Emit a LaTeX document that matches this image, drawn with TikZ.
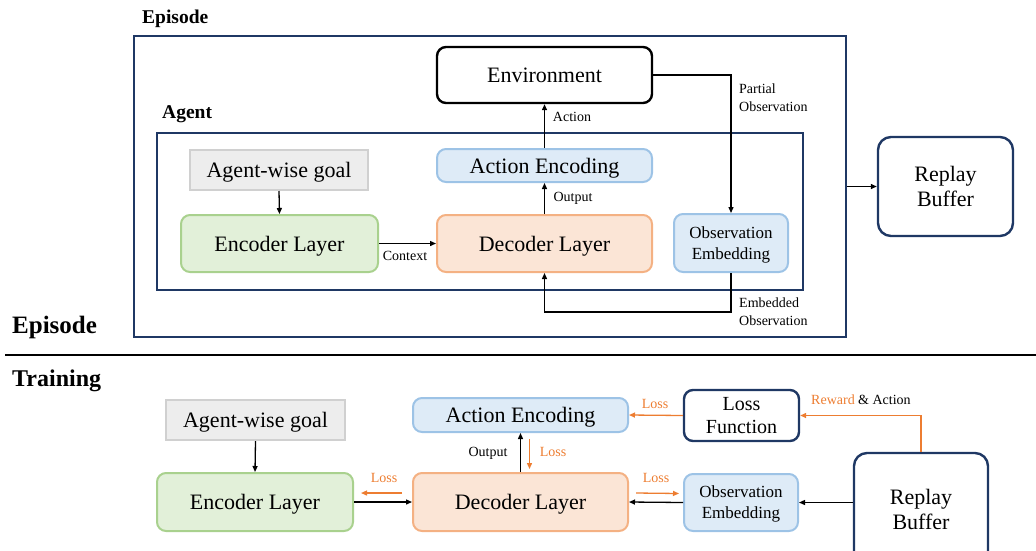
\documentclass[tikz,border=0pt]{standalone}
\usepackage{fontspec}
\setmainfont{Liberation Serif}
\usetikzlibrary{arrows.meta}
\definecolor{navy}{HTML}{1F3864}
\definecolor{bfill}{HTML}{DEEBF7}
\definecolor{bdraw}{HTML}{9DC3E6}
\definecolor{gfill}{HTML}{E2F0D9}
\definecolor{gdraw}{HTML}{A9D18E}
\definecolor{ofill}{HTML}{FBE5D6}
\definecolor{odraw}{HTML}{F4B183}
\definecolor{grfill}{HTML}{EDEDED}
\definecolor{grdraw}{HTML}{D0D0D0}
\definecolor{orarrow}{HTML}{ED7D31}
\tikzset{
  box/.style={rounded corners=9pt, line width=2pt, inner sep=0pt, align=center,
    text depth=0pt, font=\fontsize{22}{25}\selectfont},
  bluebox/.style={box, fill=bfill, draw=bdraw},
  greenbox/.style={box, fill=gfill, draw=gdraw},
  orangebox/.style={box, fill=ofill, draw=odraw},
  graybox/.style={box, rounded corners=0pt, fill=grfill, draw=grdraw},
  navybox/.style={box, fill=white, draw=navy, line width=2.4pt, rounded corners=13pt},
  envbox/.style={box, fill=white, draw=black, line width=2.4pt},
  arr/.style={-{Triangle[length=6pt,width=5pt]}, line width=1.3pt, black},
  oarr/.style={-{Triangle[length=6pt,width=5pt]}, line width=1.3pt, orarrow},
  lbl/.style={font=\fontsize{14}{18}\selectfont, inner sep=0pt, align=left},
  olbl/.style={lbl, text=orarrow},
  ttl/.style={font=\bfseries, inner sep=0pt, anchor=west}
}
\begin{document}
\begin{tikzpicture}[x=1pt,y=-1pt]
\useasboundingbox (0,0) rectangle (1036,550);
% ---------- Episode section ----------
\node[ttl, font=\bfseries\fontsize{19.5}{22}\selectfont] (tepi) at (142,19) {Episode};
\node[draw=navy, line width=1.5pt, minimum width=712pt, minimum height=301pt, inner sep=0pt] (epi) at (490,186.5) {};
\node[ttl, font=\bfseries\fontsize{19.5}{22}\selectfont] (tagent) at (162,114) {Agent};
\node[draw=navy, line width=2.6pt, minimum width=646pt, minimum height=157pt, inner sep=0pt] (agent) at (480,211.5) {};

\node[envbox, minimum width=215pt, minimum height=56pt] (env) at (544.5,75) {Environment};
\node[bluebox, minimum width=215pt, minimum height=33pt] (aenc1) at (544.5,165.5) {Action Encoding};
\node[graybox, minimum width=178pt, minimum height=40pt] (goal1) at (279,170) {Agent-wise goal};
\node[greenbox, minimum width=197pt, minimum height=57pt] (enc1) at (279.5,243.5) {Encoder Layer};
\node[orangebox, minimum width=215pt, minimum height=57pt] (dec1) at (544.5,243.5) {Decoder Layer};
\node[bluebox, minimum width=114pt, minimum height=58pt, font=\fontsize{17}{21}\selectfont] (obs1) at (731,243) {Observation\\Embedding};
\node[navybox, minimum width=135pt, minimum height=99pt] (rb1) at (945.5,186.5) {Replay\\Buffer};

\draw[arr] (goal1.south) -- (enc1.north);
\draw[arr] (enc1.east) -- (dec1.west);
\node[lbl] (lctx) at (405,256) {Context};
\draw[arr] (dec1.north) -- (aenc1.south);
\node[lbl] (lout1) at (573,198) {Output};
\draw[arr] (aenc1.north) -- (env.south);
\node[lbl] (lact) at (572,117) {Action};
\draw[arr] (env.east) -| (obs1.north);
\node[lbl, anchor=west] (lpo) at (739,98) {Partial\\Observation};
\draw[arr] (obs1.south) -- ++(0,39) -| (dec1.south);
\node[lbl, anchor=west] (leo) at (739,312) {Embedded\\Observation};
\draw[arr] (epi.east) -- (rb1.west);

% ---------- divider ----------
\node[ttl, font=\bfseries\fontsize{25}{28}\selectfont] (tepi2) at (12,327) {Episode};
\coordinate (dl) at (5,355);
\coordinate (dr) at (1036,355);
\draw[line width=2.6pt] (dl) -- (dr);
\node[ttl, font=\bfseries\fontsize{24}{28}\selectfont] (ttrain) at (12,381) {Training};

% ---------- Training section ----------
\node[graybox, minimum width=179pt, minimum height=40pt] (goal2) at (255.5,420) {Agent-wise goal};
\node[greenbox, minimum width=196pt, minimum height=58pt] (enc2) at (255,502) {Encoder Layer};
\node[bluebox, minimum width=215pt, minimum height=34pt] (aenc2) at (520.5,415) {Action Encoding};
\node[orangebox, minimum width=215pt, minimum height=58pt] (dec2) at (520.5,502) {Decoder Layer};
\node[navybox, minimum width=115pt, minimum height=51pt, rounded corners=9pt, font=\fontsize{20}{23}\selectfont] (lf) at (741.5,415.5) {Loss\\Function};
\node[bluebox, minimum width=114pt, minimum height=57pt, font=\fontsize{17}{21}\selectfont] (obs2) at (741,502.5) {Observation\\Embedding};
\node[navybox, minimum width=134pt, minimum height=112pt] (rb2) at (921,509) {Replay\\Buffer};

\draw[arr] (goal2.south) -- (enc2.north);
\draw[arr] (enc2.east) -- (dec2.west);
\draw[oarr] ([xshift=-10pt,yshift=9pt]dec2.west) -- ([xshift=7pt,yshift=9pt]enc2.east);
\node[olbl] (ll1) at (384,478) {Loss};
\draw[arr] (dec2.north) -- (aenc2.south);
\node[lbl] (lout2) at (488,453) {Output};
\draw[oarr] ([xshift=9pt,yshift=-6pt]aenc2.south) -- ([xshift=9pt,yshift=3pt]dec2.north);
\node[olbl] (ll2) at (553,452) {Loss};
\draw[oarr] (lf.west) -- (aenc2.east);
\node[olbl] (ll3) at (655,404) {Loss};
\draw[oarr] (rb2.north) |- (lf.east);
\node[lbl, anchor=west] (lra) at (811,400) {\textcolor{orarrow}{Reward} \& Action};
\draw[arr] (obs2.west) -- (dec2.east);
\draw[oarr] ([xshift=7pt,yshift=9pt]dec2.east) -- ([xshift=-4pt,yshift=9pt]obs2.west);
\node[olbl] (ll4) at (656,478) {Loss};
\draw[arr] (obs2.east -| rb2.west) -- (obs2.east);
\end{tikzpicture}
\end{document}
